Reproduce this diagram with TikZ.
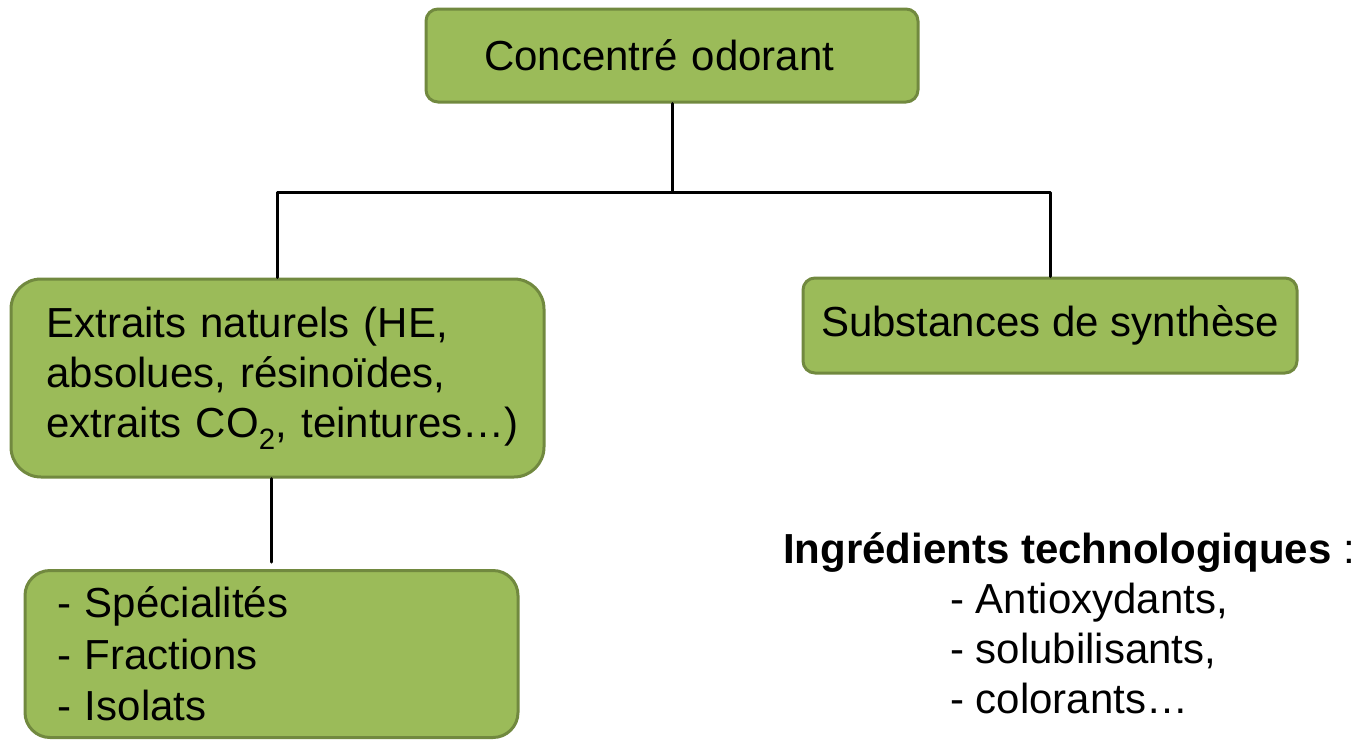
\documentclass[tikz,border=0pt]{standalone}
\usepackage{fontspec}
\setmainfont{Liberation Sans}
\usepackage{tikz}
\usetikzlibrary{positioning}
\definecolor{olivefill}{HTML}{9BBB59}
\definecolor{olivedraw}{HTML}{71893F}

\tikzset{greenbox/.style={draw=olivedraw, fill=olivefill, line width=3pt, rounded corners=12pt, inner sep=0pt, align=left},
         bigtext/.style={font=\fontsize{42}{50}\selectfont}}

\begin{document}
\begin{tikzpicture}[line cap=round,line join=round,x=1pt,y=-1pt,bigtext]
\useasboundingbox (0,0) rectangle (1359,739);
\node[greenbox, minimum width=492pt, minimum height=93pt, text width=376pt] (top) at (672,55.5) {Concentré odorant};
\node[greenbox, rounded corners=30pt, minimum width=533pt, minimum height=198pt, text width=462pt] (ext) at (277.5,378) {\raisebox{-4pt}{\parbox{462pt}{Extraits naturels (HE,\\ absolues, résinoïdes,\\ \mbox{extraits CO\textsubscript{2}, teintures…)}}}};
\node[greenbox, minimum width=494pt, minimum height=95pt] (syn) at (1050,325.5) {Substances de synthèse};
\node[greenbox, rounded corners=25pt, minimum width=493pt, minimum height=167pt, text width=429pt, font=\fontsize{42}{51.5}\selectfont] (spec) at (271.5,654) {- Spécialités\\ - Fractions\\ - Isolats};
\node[anchor=base west, inner sep=0pt, align=left] (ingr) at (783,713) {\textbf{Ingrédients technologiques} :\\ \hspace*{167pt}- Antioxydants,\\ \hspace*{167pt}- solubilisants,\\ \hspace*{167pt}- colorants…};
\coordinate (bar) at (672,192);
% tree
\draw[line width=3pt] (top.south) -- (top.south |- bar);
\draw[line width=3pt] (ext.north) |- (bar) -| (syn.north);
\draw[line width=3pt, shorten >=7pt] (ext.south -| spec.north) -- (spec.north);
\end{tikzpicture}
\end{document}
